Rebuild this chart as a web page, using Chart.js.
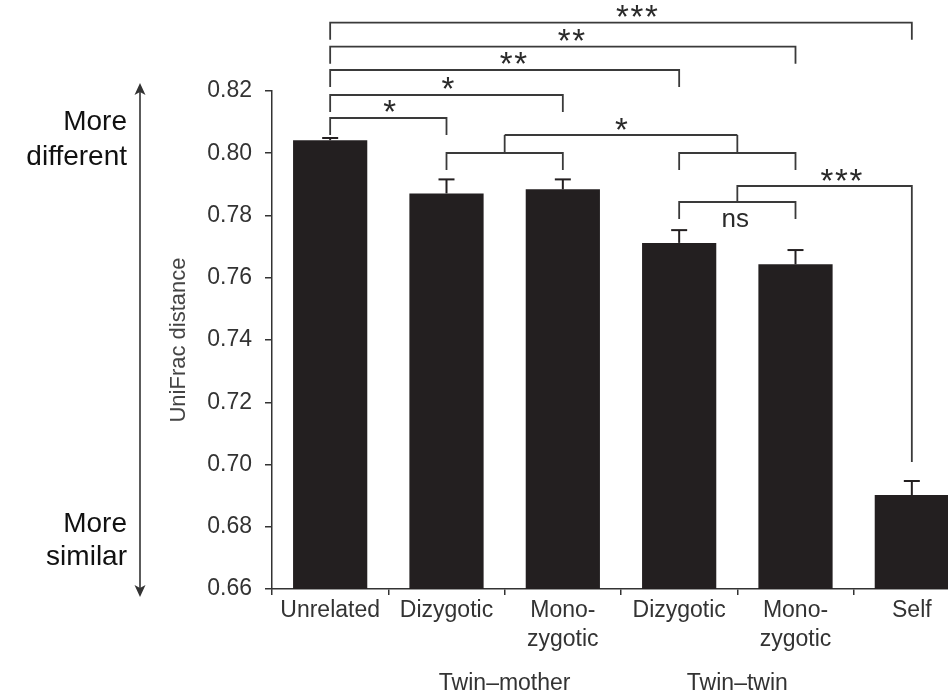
<!DOCTYPE html>
<html><head><meta charset="utf-8">
<script src="https://cdn.jsdelivr.net/npm/chart.js@4.4.1/dist/chart.umd.min.js"></script>
<style>
html,body{margin:0;padding:0;background:#fff;overflow:hidden;width:948px;height:698px}
#wrap{position:absolute;left:0;top:0;width:976px;height:698px}
</style></head>
<body><div id="wrap"><canvas id="c" width="976" height="698"></canvas></div>
<script>
// ---- data ----
const categories = ['Unrelated', 'Dizygotic', ['Mono-', 'zygotic'], 'Dizygotic', ['Mono-', 'zygotic'], 'Self'];
const distances = [0.8042, 0.7871, 0.7884, 0.7712, 0.7643, 0.6902];
const errors = [0.0007, 0.0045, 0.0032, 0.0041, 0.0046, 0.0045];
const yTickValues = [0.66, 0.68, 0.70, 0.72, 0.74, 0.76, 0.78, 0.80, 0.82];
const groupLabels = ['Twin\u2013mother', 'Twin\u2013twin'];
const groupMembers = [[1, 2], [3, 4]];
const unrelatedTargets = [5, 4, 3, 2, 1];
const unrelatedSig = ['***', '**', '**', '*', '*'];
const groupSig = '*';
const twinTwinSig = 'ns';
const selfSig = '***';
const sideTop = ['More', 'different'];
const sideBottom = ['More', 'similar'];
const yTitle = 'UniFrac distance';

const FONT = "'Liberation Sans', Arial, Helvetica, sans-serif";

function poly(ctx, pts) {
  ctx.beginPath();
  ctx.moveTo(pts[0][0], pts[0][1]);
  for (let i = 1; i < pts.length; i++) ctx.lineTo(pts[i][0], pts[i][1]);
  ctx.stroke();
}
function stars(ctx, label, xLeft, yCenter) {
  const size = 33;
  ctx.font = size + 'px ' + FONT;
  ctx.textAlign = 'left';
  ctx.textBaseline = 'alphabetic';
  for (let k = 0; k < label.length; k++) {
    ctx.fillText(label[k], xLeft + k * 14.5, yCenter + 0.41 * size);
  }
}

const errorBars = {
  id: 'errorBars',
  afterDatasetsDraw(chart) {
    const { ctx, scales: { y } } = chart;
    const meta = chart.getDatasetMeta(0);
    ctx.save();
    ctx.strokeStyle = '#231f20';
    ctx.lineWidth = 2;
    meta.data.forEach((bar, i) => {
      const yTop = y.getPixelForValue(distances[i]);
      const yCap = y.getPixelForValue(distances[i] + errors[i]);
      poly(ctx, [[bar.x, yTop], [bar.x, yCap]]);
      poly(ctx, [[bar.x - 8, yCap], [bar.x + 8, yCap]]);
    });
    ctx.restore();
  }
};

const annotations = {
  id: 'annotations',
  afterDraw(chart) {
    const { ctx, scales: { x } } = chart;
    const cx = i => x.getPixelForValue(i);
    ctx.save();
    ctx.strokeStyle = '#3a3a3a';
    ctx.fillStyle = '#2a2a2a';
    ctx.lineWidth = 1.8;

    // brackets from Unrelated
    const levels = [22.7, 46.7, 70, 95, 118];
    const leg = 17;
    unrelatedTargets.forEach((t, k) => {
      const yy = levels[k], x0 = cx(0), x1 = cx(t);
      poly(ctx, [[x0, yy + leg], [x0, yy], [x1, yy], [x1, yy + leg]]);
      stars(ctx, unrelatedSig[k], (x0 + x1) / 2 - 5, yy - 8.5);
    });

    // group brackets
    const mids = groupMembers.map(([a, b]) => {
      poly(ctx, [[cx(a), 170], [cx(a), 153], [cx(b), 153], [cx(b), 170]]);
      const m = (cx(a) + cx(b)) / 2;
      poly(ctx, [[m, 153], [m, 135]]);
      return m;
    });
    poly(ctx, [[mids[0], 135], [mids[1], 135]]);
    stars(ctx, groupSig, (mids[0] + mids[1]) / 2 - 6, 127);

    // twin-twin ns
    const [a, b] = groupMembers[1];
    poly(ctx, [[cx(a), 219], [cx(a), 202], [cx(b), 202], [cx(b), 219]]);
    ctx.font = '26px ' + FONT;
    ctx.textAlign = 'center';
    ctx.textBaseline = 'alphabetic';
    ctx.fillText(twinTwinSig, mids[1] - 2, 227);

    // twin-twin vs self
    poly(ctx, [[mids[1], 202], [mids[1], 186], [cx(5), 186], [cx(5), 462]]);
    stars(ctx, selfSig, (mids[1] + cx(5)) / 2 - 4, 178);

    // group labels under axis
    ctx.fillStyle = '#333';
    ctx.font = '23px ' + FONT;
    ctx.textAlign = 'center';
    groupMembers.forEach(([p, q], g) => {
      ctx.fillText(groupLabels[g], (cx(p) + cx(q)) / 2, 690);
    });

    // left side arrow and notes
    ctx.strokeStyle = '#333';
    ctx.fillStyle = '#333';
    ctx.lineWidth = 1.6;
    const ax = 140, aTop = 83, aBot = 597;
    poly(ctx, [[ax, aTop + 6], [ax, aBot - 6]]);
    ctx.beginPath();
    ctx.moveTo(ax, aTop); ctx.lineTo(ax - 5.5, aTop + 12); ctx.lineTo(ax, aTop + 9); ctx.lineTo(ax + 5.5, aTop + 12); ctx.closePath(); ctx.fill();
    ctx.beginPath();
    ctx.moveTo(ax, aBot); ctx.lineTo(ax - 5.5, aBot - 12); ctx.lineTo(ax, aBot - 9); ctx.lineTo(ax + 5.5, aBot - 12); ctx.closePath(); ctx.fill();

    ctx.fillStyle = '#111';
    ctx.font = '28px ' + FONT;
    ctx.textAlign = 'right';
    ctx.fillText(sideTop[0], 127, 130);
    ctx.fillText(sideTop[1], 127, 165);
    ctx.fillText(sideBottom[0], 127, 532);
    ctx.fillText(sideBottom[1], 127, 565);
    ctx.restore();
  }
};

new Chart(document.getElementById('c'), {
  type: 'bar',
  data: {
    labels: categories,
    datasets: [{
      data: distances,
      backgroundColor: '#231f20',
      borderWidth: 0,
      barPercentage: 0.638,
      categoryPercentage: 1
    }]
  },
  options: {
    responsive: false,
    animation: false,
    layout: { padding: { left: 160, top: 91, right: 6, bottom: 0 } },
    plugins: { legend: { display: false }, tooltip: { enabled: false } },
    scales: {
      x: {
        grid: { display: true, offset: true, drawOnChartArea: false, drawTicks: true, tickLength: 6, color: '#333', lineWidth: 1.5 },
        border: { display: true, color: '#333', width: 1.5 },
        ticks: { font: { family: FONT, size: 23, lineHeight: 1.27 }, color: '#333', padding: 1, maxRotation: 0, autoSkip: false },
        afterFit(s) { s.height = 109; }
      },
      y: {
        min: 0.66, max: 0.82,
        afterBuildTicks(s) { s.ticks = yTickValues.map(v => ({ value: v })); },
        grid: { display: true, drawOnChartArea: false, drawTicks: true, tickLength: 7, color: '#333', lineWidth: 1.5 },
        border: { display: true, color: '#333', width: 1.5 },
        ticks: { font: { family: FONT, size: 23 }, color: '#333', padding: 13, callback: v => Number(v).toFixed(2) },
        title: { display: true, text: yTitle, font: { family: FONT, size: 22 }, color: '#444', padding: { top: 6, bottom: 0 } },
        afterFit(s) { s.width = 112; }
      }
    }
  },
  plugins: [errorBars, annotations]
});
</script>
</body></html>
